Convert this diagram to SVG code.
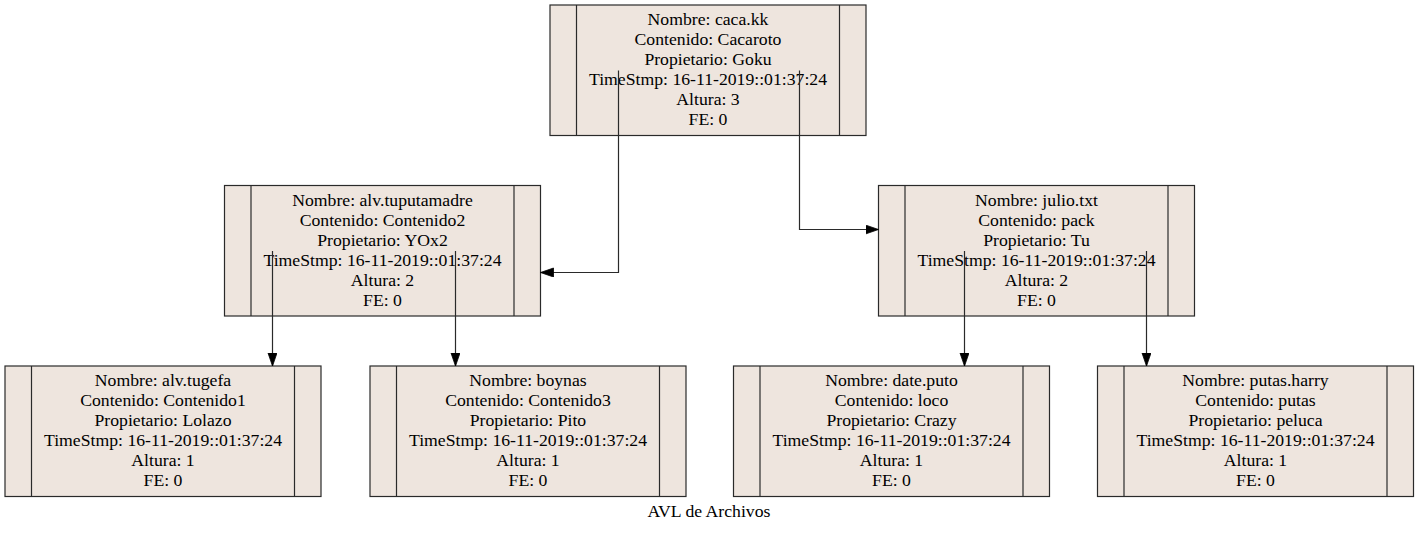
<svg xmlns="http://www.w3.org/2000/svg" width="1419" height="533" viewBox="0 0 1419 533">
<defs>
<style>
.box{fill:#eee5de;stroke:#2a2a2a;stroke-width:1.2}
.div{stroke:#2a2a2a;stroke-width:1.2}
text{font-family:'Liberation Serif','Times New Roman','DejaVu Serif',serif;font-size:17.7px;fill:#000;text-anchor:middle}
.edge{fill:none;stroke:#2a2a2a;stroke-width:1.2}
</style>
<marker id="arr" markerUnits="userSpaceOnUse" markerWidth="14" markerHeight="10" refX="13" refY="4.5" orient="auto">
<path d="M0,0 L13,4.5 L0,9 Z" fill="#000" stroke="#000" stroke-width="0.8"/>
</marker>
</defs>
<rect width="1419" height="533" fill="#fff"/>
<g id="node-cacakk">
<rect class="box" x="550" y="5" width="316" height="130.5"/>
<line class="div" x1="576.5" y1="5" x2="576.5" y2="135.5"/>
<line class="div" x1="839.5" y1="5" x2="839.5" y2="135.5"/>
<text x="708" y="25">Nombre: caca.kk</text>
<text x="708" y="45">Contenido: Cacaroto</text>
<text x="708" y="65">Propietario: Goku</text>
<text x="708" y="85">TimeStmp: 16-11-2019::01:37:24</text>
<text x="708" y="105">Altura: 3</text>
<text x="708" y="125">FE: 0</text>
</g>
<g id="node-alvtuputamadre">
<rect class="box" x="224.5" y="185.5" width="316" height="130.5"/>
<line class="div" x1="251" y1="185.5" x2="251" y2="316"/>
<line class="div" x1="514" y1="185.5" x2="514" y2="316"/>
<text x="382.5" y="205.5">Nombre: alv.tuputamadre</text>
<text x="382.5" y="225.5">Contenido: Contenido2</text>
<text x="382.5" y="245.5">Propietario: YOx2</text>
<text x="382.5" y="265.5">TimeStmp: 16-11-2019::01:37:24</text>
<text x="382.5" y="285.5">Altura: 2</text>
<text x="382.5" y="305.5">FE: 0</text>
</g>
<g id="node-juliotxt">
<rect class="box" x="878.5" y="185.5" width="316" height="130.5"/>
<line class="div" x1="905" y1="185.5" x2="905" y2="316"/>
<line class="div" x1="1168" y1="185.5" x2="1168" y2="316"/>
<text x="1036.5" y="205.5">Nombre: julio.txt</text>
<text x="1036.5" y="225.5">Contenido: pack</text>
<text x="1036.5" y="245.5">Propietario: Tu</text>
<text x="1036.5" y="265.5">TimeStmp: 16-11-2019::01:37:24</text>
<text x="1036.5" y="285.5">Altura: 2</text>
<text x="1036.5" y="305.5">FE: 0</text>
</g>
<g id="node-alvtugefa">
<rect class="box" x="5" y="366" width="316" height="130.5"/>
<line class="div" x1="31.5" y1="366" x2="31.5" y2="496.5"/>
<line class="div" x1="294.5" y1="366" x2="294.5" y2="496.5"/>
<text x="163" y="386">Nombre: alv.tugefa</text>
<text x="163" y="406">Contenido: Contenido1</text>
<text x="163" y="426">Propietario: Lolazo</text>
<text x="163" y="446">TimeStmp: 16-11-2019::01:37:24</text>
<text x="163" y="466">Altura: 1</text>
<text x="163" y="486">FE: 0</text>
</g>
<g id="node-boynas">
<rect class="box" x="370" y="366" width="316" height="130.5"/>
<line class="div" x1="396.5" y1="366" x2="396.5" y2="496.5"/>
<line class="div" x1="659.5" y1="366" x2="659.5" y2="496.5"/>
<text x="528" y="386">Nombre: boynas</text>
<text x="528" y="406">Contenido: Contenido3</text>
<text x="528" y="426">Propietario: Pito</text>
<text x="528" y="446">TimeStmp: 16-11-2019::01:37:24</text>
<text x="528" y="466">Altura: 1</text>
<text x="528" y="486">FE: 0</text>
</g>
<g id="node-dateputo">
<rect class="box" x="733.5" y="366" width="316" height="130.5"/>
<line class="div" x1="760" y1="366" x2="760" y2="496.5"/>
<line class="div" x1="1023" y1="366" x2="1023" y2="496.5"/>
<text x="891.5" y="386">Nombre: date.puto</text>
<text x="891.5" y="406">Contenido: loco</text>
<text x="891.5" y="426">Propietario: Crazy</text>
<text x="891.5" y="446">TimeStmp: 16-11-2019::01:37:24</text>
<text x="891.5" y="466">Altura: 1</text>
<text x="891.5" y="486">FE: 0</text>
</g>
<g id="node-putasharry">
<rect class="box" x="1097.5" y="366" width="316" height="130.5"/>
<line class="div" x1="1124" y1="366" x2="1124" y2="496.5"/>
<line class="div" x1="1387" y1="366" x2="1387" y2="496.5"/>
<text x="1255.5" y="386">Nombre: putas.harry</text>
<text x="1255.5" y="406">Contenido: putas</text>
<text x="1255.5" y="426">Propietario: peluca</text>
<text x="1255.5" y="446">TimeStmp: 16-11-2019::01:37:24</text>
<text x="1255.5" y="466">Altura: 1</text>
<text x="1255.5" y="486">FE: 0</text>
</g>
<g id="edges">
<path class="edge" d="M618.5,70.5 V272.5 H540.5" marker-end="url(#arr)"/>
<path class="edge" d="M799.5,70.5 V229.5 H878.5" marker-end="url(#arr)"/>
<path class="edge" d="M272.5,251 V366" marker-end="url(#arr)"/>
<path class="edge" d="M455.5,251 V366" marker-end="url(#arr)"/>
<path class="edge" d="M964.5,251 V366" marker-end="url(#arr)"/>
<path class="edge" d="M1146.5,251 V366" marker-end="url(#arr)"/>
</g>
<text id="title" x="709" y="517">AVL de Archivos</text>
</svg>
